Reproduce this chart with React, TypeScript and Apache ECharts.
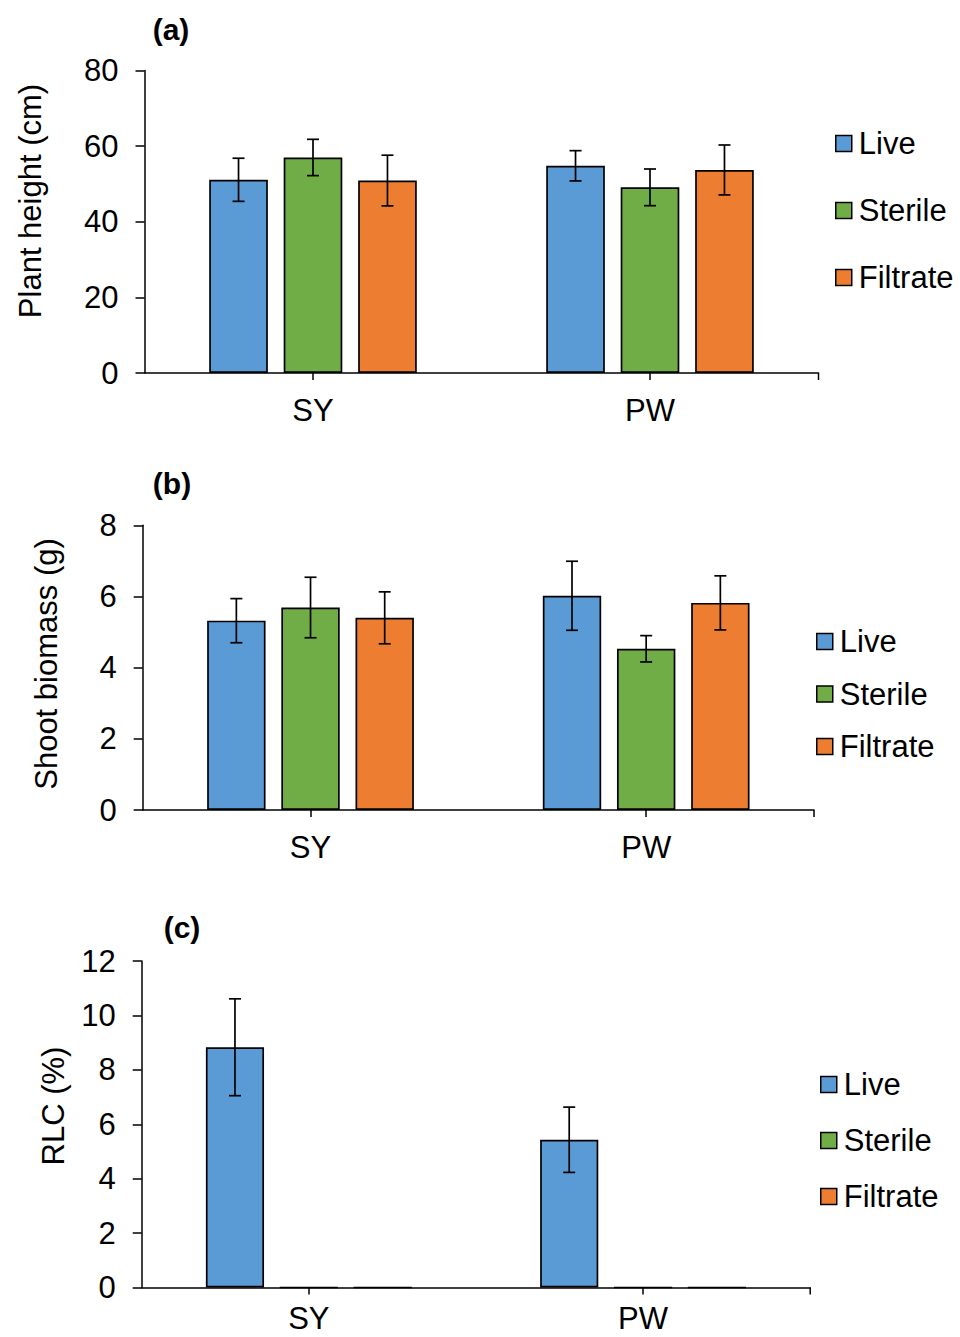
import React, { useEffect, useRef } from "react";
import * as echarts from "echarts";

// ---------- data ----------
const categories = ["SY", "PW"];
const treatments = ["Live", "Sterile", "Filtrate"];

const heightLive = [51.1, 54.8];
const heightLiveErr = [5.7, 4.0];
const heightSterile = [57.0, 49.1];
const heightSterileErr = [4.8, 4.85];
const heightFiltrate = [50.9, 53.7];
const heightFiltrateErr = [6.7, 6.6];

const biomassLive = [5.32, 6.02];
const biomassLiveErr = [0.62, 0.97];
const biomassSterile = [5.69, 4.53];
const biomassSterileErr = [0.85, 0.37];
const biomassFiltrate = [5.4, 5.82];
const biomassFiltrateErr = [0.73, 0.76];

const rlcLive = [8.83, 5.43];
const rlcLiveErr = [1.78, 1.2];
const rlcSterile = [0, 0];
const rlcFiltrate = [0, 0];

const heightTicks = { min: 0, max: 80, interval: 20 };
const biomassTicks = { min: 0, max: 8, interval: 2 };
const rlcTicks = { min: 0, max: 12, interval: 2 };

// ---------- styles ----------
const COLORS = ["#5B9BD5", "#70AD47", "#ED7D31"];
const FONT = "'Liberation Sans', Arial, Helvetica, sans-serif";
const FS = 31;
const BAR_W = 0.174;
const BAR_GAP = 0.27;

const grids = [
  { left: 144.5, top: 70.5, width: 674, height: 302.5 },
  { left: 142.7, top: 525.3, width: 671.3, height: 284.7 },
  { left: 141.7, top: 961, width: 668.5, height: 326.5 },
];

const panels = [
  {
    ticks: heightTicks,
    values: [heightLive, heightSterile, heightFiltrate],
    errs: [heightLiveErr, heightSterileErr, heightFiltrateErr],
    label: "(a)",
    labelPos: [171, 29],
    yName: "Plant height (cm)",
    yNamePos: [30, 201],
    legend: { left: 835, top: 128, gap: 36 },
    xMargin: 22,
  },
  {
    ticks: biomassTicks,
    values: [biomassLive, biomassSterile, biomassFiltrate],
    errs: [biomassLiveErr, biomassSterileErr, biomassFiltrateErr],
    label: "(b)",
    labelPos: [172, 483],
    yName: "Shoot biomass (g)",
    yNamePos: [46, 664],
    legend: { left: 816, top: 626, gap: 21.5 },
    xMargin: 22,
  },
  {
    ticks: rlcTicks,
    values: [rlcLive, rlcSterile, rlcFiltrate],
    errs: [rlcLiveErr, null, null],
    label: "(c)",
    labelPos: [182, 927],
    yName: "RLC (%)",
    yNamePos: [53, 1106],
    legend: { left: 820, top: 1069, gap: 25 },
    xMargin: 15,
  },
];

function errorRender(offsetIdx: number) {
  return (params: any, api: any) => {
    const cat = api.value(0);
    const mean = api.value(1);
    const sd = api.value(2);
    const band = api.size([1, 0])[0];
    const x = api.coord([cat, 0])[0] + offsetIdx * band * (BAR_W + BAR_W * BAR_GAP);
    const yTop = api.coord([cat, mean + sd])[1];
    const yBot = api.coord([cat, mean - sd])[1];
    const hw = 6;
    const st = { stroke: "#000", lineWidth: 1.7 };
    return {
      type: "group",
      children: [
        { type: "line", shape: { x1: x, y1: yTop, x2: x, y2: yBot }, style: st },
        { type: "line", shape: { x1: x - hw, y1: yTop, x2: x + hw, y2: yTop }, style: st },
        { type: "line", shape: { x1: x - hw, y1: yBot, x2: x + hw, y2: yBot }, style: st },
      ],
    };
  };
}

export default function App() {
  const ref = useRef<HTMLDivElement>(null);

  useEffect(() => {
    if (!ref.current) return;
    const chart = echarts.init(ref.current, null, { renderer: "svg" });

    const xAxis: any[] = [];
    const yAxis: any[] = [];
    const series: any[] = [];
    const legend: any[] = [];
    const graphic: any[] = [];

    panels.forEach((p, gi) => {
      const g = grids[gi];
      xAxis.push({
        type: "category",
        gridIndex: gi,
        data: categories,
        boundaryGap: true,
        axisLine: { lineStyle: { color: "#000", width: 1.5 } },
        axisTick: { show: true, alignWithLabel: true, length: 7, lineStyle: { color: "#000", width: 1.5 } },
        axisLabel: { color: "#000", fontSize: FS, fontFamily: FONT, margin: p.xMargin },
        splitLine: { show: false },
      });
      yAxis.push({
        type: "value",
        gridIndex: gi,
        min: p.ticks.min,
        max: p.ticks.max,
        interval: p.ticks.interval,
        axisLine: { show: true, lineStyle: { color: "#000", width: 1.5 } },
        axisTick: { show: true, length: 9, lineStyle: { color: "#000", width: 1.5 } },
        axisLabel: { color: "#000", fontSize: FS, fontFamily: FONT, margin: 26 },
        splitLine: { show: false },
      });
      treatments.forEach((name, si) => {
        series.push({
          type: "bar",
          name,
          xAxisIndex: gi,
          yAxisIndex: gi,
          data: p.values[si],
          barWidth: BAR_W * 100 + "%",
          barGap: BAR_GAP * 100 + "%",
          itemStyle: { color: COLORS[si], borderColor: "#000", borderWidth: 1.7 },
          z: 2,
        });
      });
      treatments.forEach((name, si) => {
        const errs = p.errs[si];
        if (!errs) return;
        series.push({
          type: "custom",
          name: name + " SD",
          xAxisIndex: gi,
          yAxisIndex: gi,
          data: categories.map((_, ci) => [ci, p.values[si][ci], errs[ci]]),
          renderItem: errorRender(si - 1),
          z: 5,
          silent: true,
        });
      });
      legend.push({
        orient: "vertical",
        left: p.legend.left,
        top: p.legend.top,
        padding: 0,
        itemGap: p.legend.gap,
        itemWidth: 16,
        itemHeight: 16,
        icon: "rect",
        data: treatments,
        itemStyle: { borderColor: "#000", borderWidth: 1.5 },
        textStyle: { fontSize: FS, fontFamily: FONT, color: "#000", lineHeight: 30, padding: [0, 0, 0, 2] },
      });
      // right-end tick of the x axis
      graphic.push({
        type: "line",
        shape: { x1: g.left + g.width, y1: g.top + g.height, x2: g.left + g.width, y2: g.top + g.height + 7 },
        style: { stroke: "#000", lineWidth: 1.5 },
      });
      graphic.push({
        type: "text",
        x: p.labelPos[0],
        y: p.labelPos[1],
        style: {
          text: p.label,
          fontSize: 30,
          fontWeight: "bold",
          fontFamily: FONT,
          fill: "#000",
          align: "center",
          verticalAlign: "middle",
        },
      });
      graphic.push({
        type: "text",
        x: p.yNamePos[0],
        y: p.yNamePos[1],
        rotation: Math.PI / 2,
        style: {
          text: p.yName,
          fontSize: FS,
          fontFamily: FONT,
          fill: "#000",
          align: "center",
          verticalAlign: "middle",
        },
      });
    });

    chart.setOption({
      animation: false,
      backgroundColor: "#fff",
      grid: grids.map((g) => ({ ...g, containLabel: false, outerBoundsMode: "none" })),
      xAxis,
      yAxis,
      series,
      legend,
      graphic,
    });

    return () => chart.dispose();
  }, []);

  return (
    <div
      ref={ref}
      style={{ position: "absolute", left: 0, top: 0, width: 960, height: 1337 }}
    />
  );
}
